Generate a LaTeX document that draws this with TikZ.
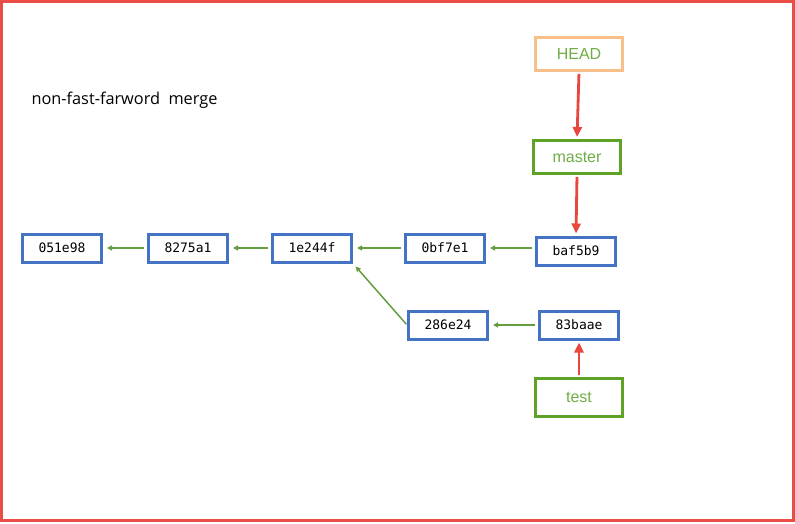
\documentclass[tikz,border=0pt]{standalone}
\usepackage{fontspec}
\setmainfont{Open Sans}
\setmonofont{DejaVu Sans Mono}
\newfontfamily\labelfont{Liberation Sans}
\usepackage{tikz}
\usetikzlibrary{arrows.meta}

\definecolor{frame}{HTML}{EA4D45}
\definecolor{commitblue}{HTML}{4472C4}
\definecolor{branchgreen}{HTML}{5EA226}
\definecolor{textgreen}{HTML}{70AD47}
\definecolor{headorange}{HTML}{F8BF88}
\definecolor{arrowred}{HTML}{E8473F}

\tikzset{
  commit/.style={draw=commitblue, line width=3pt, fill=white, minimum width=79pt, minimum height=28pt,
    inner sep=0pt, font=\fontsize{13}{15}\selectfont\ttfamily},
  branch/.style={draw=branchgreen, line width=3pt, fill=white, minimum width=87pt, minimum height=33pt,
    inner sep=0pt, text=textgreen, font=\fontsize{16}{19}\selectfont\labelfont},
  parent/.style={draw=textgreen!90!black, line width=1.5pt, -{Triangle[length=5pt,width=5pt]}, shorten <=3pt, shorten >=4pt},
  refptr/.style={draw=arrowred, line width=2.8pt, -{Triangle[length=10pt,width=9pt]}, shorten <=2pt, shorten >=2pt}
}

\begin{document}
\begin{tikzpicture}[x=1pt,y=-1pt]
    \useasboundingbox (0,0) rectangle (795,524);
    \draw[frame, line width=3pt] (1.5,1.5) rectangle (793.5,520.5);

    \node [anchor=west, font=\fontsize{16.3}{19}\selectfont] (title) at (28,100) {non-fast-farword\ \ merge};

    % commits
    \node [commit] (c051e98) at (62,248) {051e98};
    \node [commit] (c8275a1) at (188,248) {8275a1};
    \node [commit] (c1e244f) at (312,248) {1e244f};
    \node [commit] (c0bf7e1) at (445,248) {0bf7e1};
    \node [commit] (cbaf5b9) at (576,251) {baf5b9};
    \node [commit] (c286e24) at (448,325) {286e24};
    \node [commit] (c83baae) at (579,325) {83baae};

    % refs
    \node [branch, draw=headorange] (head) at (579,54) {HEAD};
    \node [branch] (master) at (577,157) {master};
    \node [branch, minimum height=38pt] (test) at (579,397) {test};

    \draw[parent] (c8275a1) -- (c051e98);
    \draw[parent] (c1e244f) -- (c8275a1);
    \draw[parent] (c0bf7e1.west) -- (c1e244f.east);
    \draw[parent] (cbaf5b9.west |- c0bf7e1.east) -- (c0bf7e1.east);
    \draw[parent] (c83baae) -- (c286e24);
    \draw[parent, shorten <=1pt] (c286e24.west) -- (c1e244f.south east);

    \draw[refptr] (head.south) -- (master.north);
    \draw[refptr] (master.south) -- (cbaf5b9.north);
    \draw[refptr] (test.north) -- (c83baae.south);
\end{tikzpicture}
\end{document}
